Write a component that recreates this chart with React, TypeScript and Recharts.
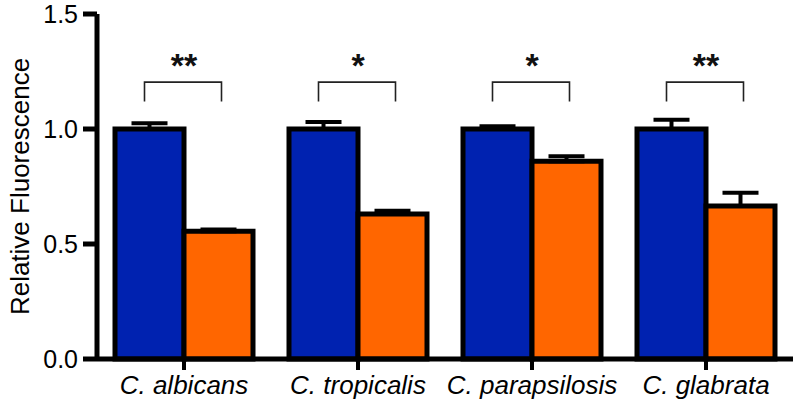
import React from 'react';
import { BarChart, Bar, XAxis, YAxis, ErrorBar, LabelList } from 'recharts';

const categories = ['C. albicans', 'C. tropicalis', 'C. parapsilosis', 'C. glabrata'];
const controlValues = [1.0, 1.0, 1.0, 1.0];
const controlErrors = [0.025, 0.03, 0.012, 0.04];
const treatedValues = [0.555, 0.63, 0.86, 0.665];
const treatedErrors = [0.008, 0.015, 0.022, 0.058];
const significance = ['**', '*', '*', '**'];
const yTicks = [0, 0.5, 1.0, 1.5];

const data = categories.map((name, i) => ({
  name,
  control: controlValues[i],
  controlErr: [0, controlErrors[i]],
  treated: treatedValues[i],
  treatedErr: [0, treatedErrors[i]],
}));

const BRACKET_TOP = 1.204;
const BRACKET_LEG = 1.12;
const FONT = 'Liberation Sans, Arial, sans-serif';

const renderBracket = (props: any) => {
  const vb = props.viewBox || props;
  const { x, y, width, height } = vb;
  const index = props.index;
  const value = controlValues[index];
  if (value === undefined || !height) return null;
  const pxPerUnit = height / value;
  const base = y + height;
  const yTop = base - pxPerUnit * BRACKET_TOP;
  const yLeg = base - pxPerUnit * BRACKET_LEG;
  const x1 = x + width / 2 - 5;
  const x2 = x + width * 1.5 + 3;
  const cx = x + width;
  return (
    <g>
      <path d={`M${x1},${yLeg} L${x1},${yTop} L${x2},${yTop} L${x2},${yLeg}`} fill="none" stroke="#222" strokeWidth={1.6} />
      <text x={cx} y={yTop - 5} textAnchor="middle" fontSize={34} fontWeight="bold" fontFamily={FONT} fill="#111">
        {significance[index]}
      </text>
    </g>
  );
};

export default function App() {
  return (
    <div style={{ position: 'absolute', left: 0, top: 0, background: '#fff' }}>
      <BarChart
        width={796}
        height={403}
        data={data}
        margin={{ top: 14, right: 3, left: 0, bottom: 10 }}
        barCategoryGap={18}
        barGap={0}
      >
        <XAxis
          dataKey="name"
          height={34}
          axisLine={{ stroke: '#000', strokeWidth: 5 }}
          tickLine={{ stroke: '#000', strokeWidth: 4 }}
          tickSize={11}
          tickMargin={6}
          tick={{ fill: '#000', fontSize: 26, fontStyle: 'italic', fontFamily: FONT }}
          interval={0}
        />
        <YAxis
          width={97}
          domain={[0, 1.5]}
          ticks={yTicks}
          tickFormatter={(v: number) => v.toFixed(1)}
          axisLine={{ stroke: '#000', strokeWidth: 5 }}
          tickLine={{ stroke: '#000', strokeWidth: 5 }}
          tickSize={14}
          tickMargin={5}
          tick={{ fill: '#000', fontSize: 25, fontFamily: FONT }}
          label={{
            value: 'Relative Fluorescence',
            angle: -90,
            position: 'insideLeft',
            offset: 20,
            style: { textAnchor: 'middle', fontSize: 26, fill: '#000', fontFamily: FONT },
          }}
        />
        <Bar dataKey="control" fill="#0022B0" stroke="#000" strokeWidth={5} isAnimationActive={false}>
          <ErrorBar dataKey="controlErr" direction="y" width={18} stroke="#000" strokeWidth={4} />
          <LabelList dataKey="control" content={renderBracket} />
        </Bar>
        <Bar dataKey="treated" fill="#FF6600" stroke="#000" strokeWidth={5} isAnimationActive={false}>
          <ErrorBar dataKey="treatedErr" direction="y" width={18} stroke="#000" strokeWidth={4} />
        </Bar>
      </BarChart>
    </div>
  );
}
